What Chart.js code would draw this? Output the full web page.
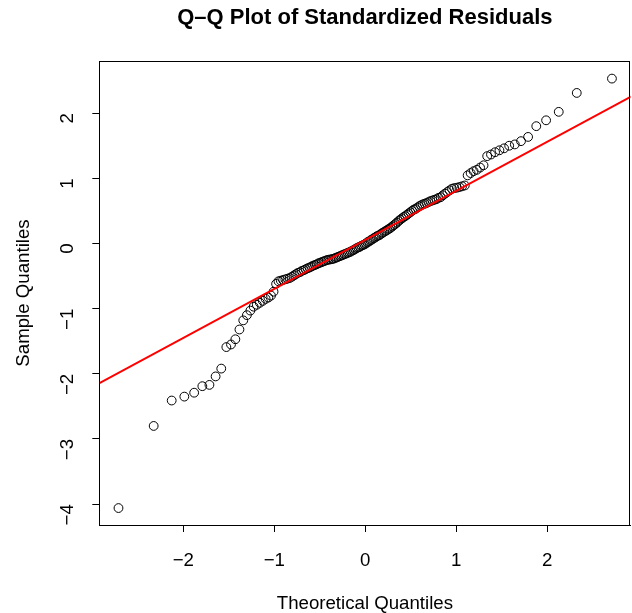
<!DOCTYPE html>
<html lang="en">
<head>
    <meta charset="UTF-8">
    <title>Q-Q Plot of Standardized Residuals</title>
    <script src="https://cdn.jsdelivr.net/npm/chart.js"></script>
    <style>
        body {
            margin: 0;
            background: #fff;
        }
        #qqChart {
            display: block;
        }
    </style>
</head>
<body>
    <canvas id="qqChart" width="632" height="613"></canvas>
    <script>
        // theoretical normal quantiles (x) and standardized residuals (y)
        const theoX = [
            -2.713, -2.326, -2.128, -1.989, -1.881, -1.791, -1.713, -1.645, -1.583, -1.527,
            -1.476, -1.428, -1.383, -1.341, -1.301, -1.263, -1.227, -1.192, -1.159, -1.126,
            -1.095, -1.065, -1.036, -1.008, -0.980, -0.954, -0.928, -0.903, -0.878, -0.854,
            -0.830, -0.806, -0.783, -0.761, -0.739, -0.717, -0.696, -0.674, -0.654, -0.633,
            -0.613, -0.593, -0.573, -0.553, -0.534, -0.515, -0.496, -0.477, -0.459, -0.440,
            -0.422, -0.404, -0.385, -0.367, -0.349, -0.332, -0.314, -0.297, -0.279, -0.262,
            -0.245, -0.228, -0.210, -0.193, -0.176, -0.159, -0.143, -0.126, -0.109, -0.092,
            -0.075, -0.059, -0.042, -0.025, -0.008,
            0.008, 0.025, 0.042, 0.059, 0.075, 0.092, 0.109, 0.126, 0.143, 0.159,
            0.176, 0.193, 0.210, 0.228, 0.245, 0.262, 0.279, 0.297, 0.314, 0.332,
            0.349, 0.367, 0.385, 0.404, 0.422, 0.440, 0.459, 0.477, 0.496, 0.515,
            0.534, 0.553, 0.573, 0.593, 0.613, 0.633, 0.654, 0.674, 0.696, 0.717,
            0.739, 0.761, 0.783, 0.806, 0.830, 0.854, 0.878, 0.903, 0.928, 0.954,
            0.980, 1.008, 1.036, 1.065, 1.095, 1.126, 1.159, 1.192, 1.227, 1.263,
            1.301, 1.341, 1.383, 1.428, 1.476, 1.527, 1.583, 1.645, 1.713, 1.791,
            1.881, 1.989, 2.128, 2.326, 2.713
        ];
        const sampleY = [
            -4.06, -2.80, -2.41, -2.35, -2.29, -2.19, -2.17, -2.04, -1.92, -1.59,
            -1.55, -1.47, -1.32, -1.18, -1.10, -1.03, -0.97, -0.94, -0.91, -0.88,
            -0.85, -0.83, -0.80, -0.74, -0.62, -0.58, -0.57, -0.56, -0.55, -0.54,
            -0.53, -0.51, -0.49, -0.47, -0.45, -0.44, -0.42, -0.41, -0.395, -0.38,
            -0.37, -0.355, -0.34, -0.33, -0.32, -0.305, -0.295, -0.285, -0.275, -0.265,
            -0.255, -0.25, -0.245, -0.24, -0.235, -0.225, -0.215, -0.205, -0.195, -0.185,
            -0.175, -0.165, -0.155, -0.145, -0.135, -0.125, -0.11, -0.10, -0.085, -0.07,
            -0.06, -0.05, -0.035, -0.025, -0.015,
            0.00, 0.02, 0.03, 0.05, 0.06, 0.08, 0.09, 0.11, 0.12, 0.13,
            0.15, 0.165, 0.18, 0.195, 0.21, 0.225, 0.24, 0.26, 0.28, 0.30,
            0.32, 0.345, 0.365, 0.385, 0.405, 0.42, 0.44, 0.46, 0.48, 0.50,
            0.52, 0.53, 0.55, 0.57, 0.585, 0.60, 0.61, 0.62, 0.635, 0.65,
            0.66, 0.67, 0.68, 0.70, 0.71, 0.74, 0.765, 0.79, 0.815, 0.84,
            0.85, 0.856, 0.866, 0.877, 0.89, 1.045, 1.08, 1.11, 1.13, 1.165,
            1.20, 1.34, 1.365, 1.40, 1.43, 1.46, 1.50, 1.52, 1.57, 1.635,
            1.80, 1.89, 2.02, 2.31, 2.53
        ];
        // qqline ends, read at x = -3 and x = 3
        const lineX = [-3, 3];
        const lineY = [-2.20, 2.31];

        const xTicks = [-2, -1, 0, 1, 2];
        const yTicks = [-4, -3, -2, -1, 0, 1, 2];

        const chartTitle = "Q\u2013Q Plot of Standardized Residuals";
        const xTitle = "Theoretical Quantiles";
        const yTitle = "Sample Quantiles";

        const fontFamily = "'Liberation Sans', Arial, Helvetica, sans-serif";
        const baseSize = 18.67;
        const minusLabel = v => (v < 0 ? "\u2212" + Math.abs(v) : String(v));

        // box around the plot region + title centred over it, R style
        const rFrame = {
            id: "rFrame",
            afterDraw(chart) {
                const { ctx, chartArea: a } = chart;
                ctx.save();
                ctx.strokeStyle = "#000";
                ctx.lineWidth = 1;
                ctx.strokeRect(Math.round(a.left) + 0.5, Math.round(a.top) + 0.5,
                    Math.round(a.right - a.left) - 1, Math.round(a.bottom - a.top));
                ctx.fillStyle = "#000";
                ctx.font = "bold 22px " + fontFamily;
                ctx.textAlign = "center";
                ctx.textBaseline = "middle";
                ctx.fillText(chartTitle, (a.left + a.right) / 2, 18);
                ctx.restore();
            }
        };

        const ctx = document.getElementById("qqChart").getContext("2d");
        new Chart(ctx, {
            type: "scatter",
            data: {
                datasets: [
                    {
                        type: "line",
                        data: lineX.map((x, i) => ({ x: x, y: lineY[i] })),
                        borderColor: "#ff0000",
                        borderWidth: 2,
                        pointRadius: 0,
                        fill: false,
                        order: 0
                    },
                    {
                        data: theoX.map((x, i) => ({ x: x, y: sampleY[i] })),
                        pointStyle: "circle",
                        pointRadius: 4.4,
                        pointBorderWidth: 1,
                        pointBorderColor: "#000",
                        pointBackgroundColor: "rgba(0,0,0,0)",
                        order: 1
                    }
                ]
            },
            options: {
                responsive: false,
                animation: false,
                events: [],
                layout: {
                    autoPadding: false,
                    padding: { top: 61, right: 1.5, left: 0, bottom: 0 }
                },
                plugins: {
                    legend: { display: false },
                    tooltip: { enabled: false },
                    title: { display: false }
                },
                scales: {
                    x: {
                        type: "linear",
                        min: -2.924,
                        max: 2.917,
                        afterBuildTicks: s => { s.ticks = xTicks.map(v => ({ value: v })); },
                        afterFit: s => { s.height = 88; s.paddingLeft = 0; s.paddingRight = 0; },
                        grid: {
                            drawOnChartArea: false,
                            drawTicks: true,
                            tickLength: 7,
                            tickColor: "#000"
                        },
                        border: { display: true, color: "#000" },
                        ticks: {
                            color: "#000",
                            font: { family: fontFamily, size: baseSize },
                            padding: 18,
                            maxRotation: 0,
                            callback: minusLabel
                        },
                        title: {
                            display: true,
                            text: xTitle,
                            color: "#000",
                            font: { family: fontFamily, size: baseSize, lineHeight: 1 },
                            padding: { top: 0, bottom: 0 }
                        }
                    },
                    y: {
                        type: "linear",
                        min: -4.32,
                        max: 2.80,
                        afterBuildTicks: s => { s.ticks = yTicks.map(v => ({ value: v })); },
                        afterFit: s => { s.width = 99.3; s.paddingTop = 0; s.paddingBottom = 0; },
                        grid: {
                            drawOnChartArea: false,
                            drawTicks: true,
                            tickLength: 7,
                            tickColor: "#000"
                        },
                        border: { display: true, color: "#000" },
                        ticks: {
                            color: "#000",
                            font: { family: fontFamily, size: baseSize },
                            padding: 24,
                            minRotation: 90,
                            maxRotation: 90,
                            callback: minusLabel
                        },
                        title: {
                            display: true,
                            text: yTitle,
                            color: "#000",
                            font: { family: fontFamily, size: baseSize },
                            padding: { top: 12.5, bottom: 0 }
                        }
                    }
                }
            },
            plugins: [rFrame]
        });
    </script>
</body>
</html>
